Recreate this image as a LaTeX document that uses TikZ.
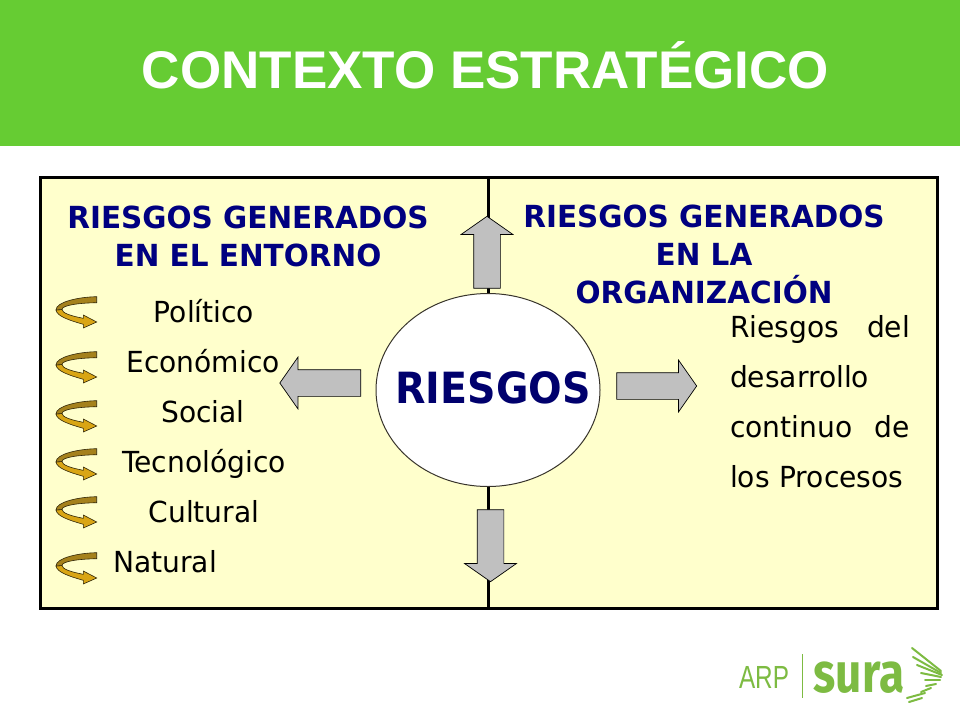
\documentclass[tikz,border=0pt]{standalone}
\usepackage{fontspec}
\usetikzlibrary{shapes.arrows,shapes.geometric,positioning}
\setmainfont{Liberation Sans}
\newfontfamily\bodyfont[FakeStretch=0.97]{DejaVu Sans}
\newfontfamily\riskfont[FakeStretch=0.92]{DejaVu Sans}
\newfontfamily\arpfont[FakeStretch=0.76]{Liberation Sans}
\newfontfamily\logofont[FakeStretch=0.82]{Fira Sans}
\definecolor{bandgreen}{HTML}{66CC33}
\definecolor{panelyellow}{HTML}{FFFFCC}
\definecolor{headblue}{HTML}{000080}
\definecolor{arrowgray}{HTML}{C0C0C0}
\definecolor{logogreen}{HTML}{7DBB42}
\definecolor{goldlight}{HTML}{D9A514}
\definecolor{golddark}{HTML}{A5811C}
\tikzset{
  heading/.style={font=\bodyfont\bfseries\fontsize{30.4}{38}\selectfont, align=center, text=headblue},
  factor/.style={font=\bodyfont\fontsize{29}{34}\selectfont, inner sep=0pt, text height=22pt, text depth=6pt},
  riskarrow/.style={single arrow, draw=black, line width=.7pt, fill=arrowgray, inner sep=13pt,
    single arrow head extend=12.5pt, single arrow head indent=0pt,
    single arrow tip angle=110},
  turnarrow/.pic={
    \fill[goldlight, draw=black!70!golddark, line width=.6pt] (0,0) .. controls (1,6) and (12,10) .. (27.3,14.3)
      -- (27.3,18) -- (40.7,12) -- (27.3,5) -- (27.3,8.3) .. controls (15,6) and (6,3) .. (6,-.5) -- cycle;
    \fill[golddark, draw=black!70!golddark, line width=.6pt] (0,0) .. controls (0,-8) and (22,-13) .. (40.7,-13.3)
      -- (40.7,-7.3) .. controls (24,-7) and (6,-5) .. (6,-.5) -- cycle;
  }
}
\begin{document}
\begin{tikzpicture}[x=1pt,y=-1pt]
  \useasboundingbox (0,0) rectangle (960,720);
  \fill[white] (0,0) rectangle (960,720);
  % title band
  \fill[bandgreen] (0,0) rectangle (960,146);
  \node (title) at (485.5,65) [font=\bfseries\fontsize{53}{60}\selectfont, text=white] {CONTEXTO ESTRATÉGICO};

  % panel
  \draw[fill=panelyellow, line width=3pt] (40,177) rectangle (937,608);
  \coordinate (divtop) at (488,177);
  \coordinate (divbot) at (488,608);
  \draw[line width=3pt] (divtop) -- (divbot);

  % centre
  \node (riesgos) at (488,390) [ellipse, draw=black!80!olive, line width=1pt, fill=white,
    minimum width=224pt, minimum height=193pt, inner sep=0pt] {};
  \node (riesgostext) at (493,388) [font=\riskfont\bfseries\fontsize{43}{48}\selectfont, text=headblue!85!black] {RIESGOS};

  \node (arrowup) at (487,257) [riskarrow, shape border rotate=90, minimum height=72pt] {};
  \node (arrowdown) at (490.5,541) [riskarrow, shape border rotate=270, minimum height=72pt] {};
  \node (arrowleft) at (325,383) [riskarrow, shape border rotate=180, minimum height=81pt] {};
  \node (arrowright) at (652,386) [riskarrow, minimum height=80pt] {};

  % headings
  \node (lefthead) at (248,236.5) [heading] {RIESGOS GENERADOS\\EN EL ENTORNO};
  \node (righthead) at (704,254) [heading] {RIESGOS GENERADOS\\EN LA\\ORGANIZACIÓN};

  % list
  \node (politico) at (204,314) [factor] {Político};
  \node (economico) at (203,364) [factor] {Económico};
  \node (social) at (203,414) [factor] {Social};
  \node (tecnologico) at (204,464) [factor] {Tecnológico};
  \node (cultural) at (204,514) [factor] {Cultural};
  \node (natural) at (165,564) [factor] {Natural};

  \foreach \ypos in {310,365,414,462,510,566}
    \pic at (56,\ypos) {turnarrow};

  \node (procesos) at (820,402) [font=\bodyfont\fontsize{29}{50}\selectfont, inner sep=0pt,
    align=left, text width=180pt] {\makebox[180pt][s]{Riesgos\hfill del}\\desarrollo\\\makebox[180pt][s]{continuo\hfill de}\\los Procesos};

  % logo
  \node (arp) at (764,688) [anchor=base, font=\arpfont\fontsize{32}{36}\selectfont, text=logogreen, inner sep=0pt] {ARP};
  \coordinate (sepa) at (802,654);
  \coordinate (sepb) at (802,698);
  \draw[logogreen, line width=.8pt] (sepa) -- (sepb);
  \node (sura) at (859,692) [anchor=base, font=\logofont\bfseries\fontsize{56}{58}\selectfont, text=logogreen, inner sep=0pt] {sura};
  \foreach \xa/\ya/\xb/\yb in {912/648/941/671, 913/657/941/673, 917/665/942/675, 921/673/941/677, 925/680/940/680, 926/686/936/684, 921/692/931/688, 907/698/925/693, 909/702/922/698}
    \draw[logogreen, line width=2pt, line cap=round] (\xa,\ya) -- (\xb,\yb);
\end{tikzpicture}
\end{document}
